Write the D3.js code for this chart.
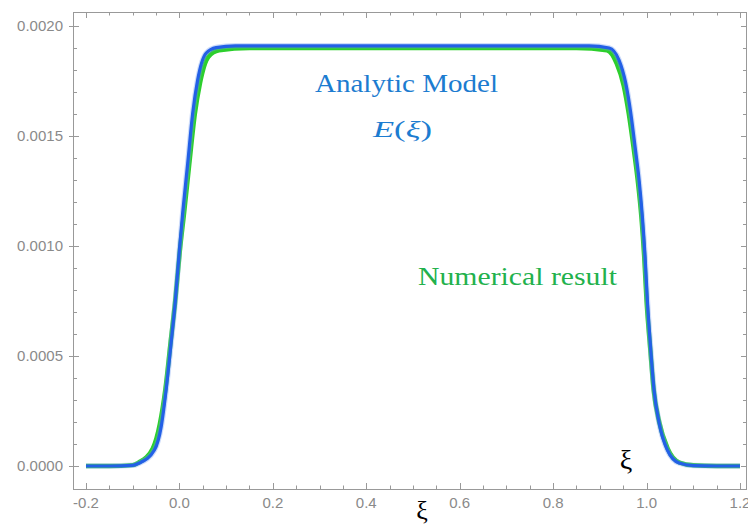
<!DOCTYPE html>
<html>
<head>
<meta charset="utf-8">
<script src="https://cdn.jsdelivr.net/npm/d3@7"></script>
<style>
  body { margin: 0; background: #fff; }
  svg { display: block; }
</style>
</head>
<body>
<div id="main"></div>
<script>
(function() {
  // analytic model E(xi)
  const analyticXi = [-0.2, -0.15, -0.1, -0.0856, -0.0535, -0.039, -0.0285, -0.0178, -0.0086, 0.0, 0.007, 0.0178, 0.0285, 0.039, 0.057, 0.0785, 0.12, 0.3, 0.5, 0.7, 0.877, 0.92, 0.941, 0.9555, 0.9662, 0.9754, 0.984, 0.991, 0.9968, 1.0017, 1.009, 1.016, 1.027, 1.0445, 1.0695, 1.1, 1.15, 1.2];
  const analyticE = [0, 0, 0.000003, 0.0000136, 0.0000727, 0.000179, 0.000345, 0.000559, 0.000754, 0.000982, 0.00115, 0.001377, 0.001605, 0.001754, 0.001876, 0.001902, 0.00191, 0.00191, 0.00191, 0.00191, 0.00191, 0.0019, 0.001845, 0.001739, 0.001604, 0.001451, 0.0013, 0.001133, 0.000951, 0.000754, 0.000527, 0.000345, 0.000195, 0.0000727, 0.0000136, 0.000002, 0, 0];

  // numerical result
  const numericXi = [-0.2, -0.15, -0.1, -0.087, -0.057, -0.042, -0.030, -0.019, -0.009, 0.001, 0.010, 0.021, 0.033, 0.044, 0.062, 0.085, 0.15, 0.3, 0.5, 0.7, 0.85, 0.915, 0.936, 0.951, 0.962, 0.972, 0.981, 0.989, 0.995, 1.0, 1.008, 1.015, 1.027, 1.045, 1.07, 1.1, 1.15, 1.2];
  const numericE = [0, 0, 0.000004, 0.000016, 0.00008, 0.00019, 0.00035, 0.00056, 0.00075, 0.00098, 0.00115, 0.00137, 0.0016, 0.00174, 0.00186, 0.00189, 0.0019, 0.0019, 0.0019, 0.0019, 0.0019, 0.00189, 0.00183, 0.00173, 0.0016, 0.00145, 0.0013, 0.00113, 0.00095, 0.00075, 0.00053, 0.00035, 0.0002, 0.00008, 0.000016, 0.000003, 0, 0];

  const xTicks = [-0.2, 0.0, 0.2, 0.4, 0.6, 0.8, 1.0, 1.2];
  const yTicks = [0.0000, 0.0005, 0.0010, 0.0015, 0.0020];

  const width = 748, height = 526;
  const margin = {left: 73, right: 1, top: 12, bottom: 37};

  const svg = d3.select("#main")
    .append("svg")
    .attr("width", width)
    .attr("height", height);

  const x = d3.scaleLinear()
    .domain([-0.2278, 1.215])
    .range([margin.left, width - margin.right]);
  const y = d3.scaleLinear()
    .domain([-0.0001045, 0.0020636])
    .range([height - margin.bottom, margin.top]);

  const axisColor = "#999";
  const labelColor = "#8a8a8a";
  const left = margin.left, right = width - margin.right;
  const top = margin.top, bottom = height - margin.bottom;

  // minor ticks
  const xMinor = d3.range(-0.2, 1.2001, 0.05).filter(v => Math.abs(v * 5 - Math.round(v * 5)) > 1e-6);
  const yMinor = d3.range(0, 0.00206, 0.0001).filter(v => Math.abs(v / 0.0005 - Math.round(v / 0.0005)) > 1e-6);

  const axes = svg.append("g").attr("stroke", axisColor).attr("stroke-width", 1);

  // frame
  axes.append("rect")
    .attr("x", left + 0.5).attr("y", top + 0.5)
    .attr("width", right - left - 1).attr("height", bottom - top)
    .attr("fill", "none");

  // bottom + top ticks
  xTicks.forEach(v => {
    const px = Math.round(x(v)) + 0.5;
    axes.append("line").attr("x1", px).attr("x2", px).attr("y1", bottom).attr("y2", bottom - 6);
    axes.append("line").attr("x1", px).attr("x2", px).attr("y1", top).attr("y2", top + 6);
  });
  xMinor.forEach(v => {
    const px = Math.round(x(v)) + 0.5;
    axes.append("line").attr("x1", px).attr("x2", px).attr("y1", bottom).attr("y2", bottom - 3.5);
    axes.append("line").attr("x1", px).attr("x2", px).attr("y1", top).attr("y2", top + 3.5);
  });

  // left + right ticks
  yTicks.forEach(v => {
    const py = Math.round(y(v)) + 0.5;
    axes.append("line").attr("x1", left - 4).attr("x2", left + 6).attr("y1", py).attr("y2", py);
    axes.append("line").attr("x1", right).attr("x2", right - 6).attr("y1", py).attr("y2", py);
  });
  yMinor.forEach(v => {
    const py = Math.round(y(v)) + 0.5;
    axes.append("line").attr("x1", left).attr("x2", left + 4).attr("y1", py).attr("y2", py);
    axes.append("line").attr("x1", right).attr("x2", right - 4).attr("y1", py).attr("y2", py);
  });

  // tick labels
  svg.append("g")
    .selectAll("text")
    .data(xTicks)
    .join("text")
    .attr("x", d => x(d))
    .attr("y", bottom + 19)
    .attr("text-anchor", "middle")
    .attr("font-family", "Liberation Sans, Arial, sans-serif")
    .attr("font-size", "15px")
    .attr("fill", labelColor)
    .text(d => d3.format(".1f")(d).replace("−", "-"));

  svg.append("g")
    .selectAll("text")
    .data(yTicks)
    .join("text")
    .attr("x", left - 10)
    .attr("y", d => y(d))
    .attr("dy", "0.35em")
    .attr("text-anchor", "end")
    .attr("font-family", "Liberation Sans, Arial, sans-serif")
    .attr("font-size", "15px")
    .attr("fill", labelColor)
    .text(d => d3.format(".4f")(d));

  const line = d3.line()
    .x(d => x(d[0]))
    .y(d => y(d[1]))
    .curve(d3.curveMonotoneX);

  const numeric = numericXi.map((v, i) => [v, numericE[i]]);
  const analytic = analyticXi.map((v, i) => [v, analyticE[i]]);

  svg.append("path")
    .datum(numeric)
    .attr("d", line)
    .attr("fill", "none")
    .attr("stroke", "#2ccf2c")
    .attr("stroke-width", 4.5)
    .attr("stroke-linejoin", "round");

  // soft halo around the blue curve
  svg.append("path")
    .datum(analytic)
    .attr("d", line)
    .attr("fill", "none")
    .attr("stroke", "#6f9cf0")
    .attr("stroke-opacity", 0.35)
    .attr("stroke-width", 5.5)
    .attr("stroke-linejoin", "round");

  svg.append("path")
    .datum(analytic)
    .attr("d", line)
    .attr("fill", "none")
    .attr("stroke", "#2360e6")
    .attr("stroke-width", 3.2)
    .attr("stroke-linejoin", "round");

  // annotations
  const serif = "'Liberation Serif', 'DejaVu Serif', serif";
  svg.append("text")
    .attr("x", 315).attr("y", 92)
    .attr("font-family", serif)
    .attr("font-size", "25px")
    .attr("fill", "#1c7cd0")
    .attr("textLength", 183)
    .attr("lengthAdjust", "spacingAndGlyphs")
    .text("Analytic Model");

  svg.append("text")
    .attr("x", 373).attr("y", 137)
    .attr("font-family", serif)
    .attr("font-size", "24px")
    .attr("fill", "#1c7cd0")
    .attr("textLength", 59)
    .attr("lengthAdjust", "spacingAndGlyphs")
    .html("<tspan font-style='italic'>E</tspan>(<tspan font-style='italic'>ξ</tspan>)");

  svg.append("text")
    .attr("x", 418).attr("y", 285)
    .attr("font-family", serif)
    .attr("font-size", "25px")
    .attr("fill", "#22b14c")
    .attr("textLength", 199)
    .attr("lengthAdjust", "spacingAndGlyphs")
    .text("Numerical result");

  svg.append("text")
    .attr("x", 626).attr("y", 469)
    .attr("text-anchor", "middle")
    .attr("font-family", serif)
    .attr("font-size", "28px")
    .attr("fill", "#000")
    .text("ξ");

  svg.append("text")
    .attr("x", 422).attr("y", 519)
    .attr("text-anchor", "middle")
    .attr("font-family", serif)
    .attr("font-size", "26px")
    .attr("fill", "#000")
    .text("ξ");
})();
</script>
</body>
</html>
